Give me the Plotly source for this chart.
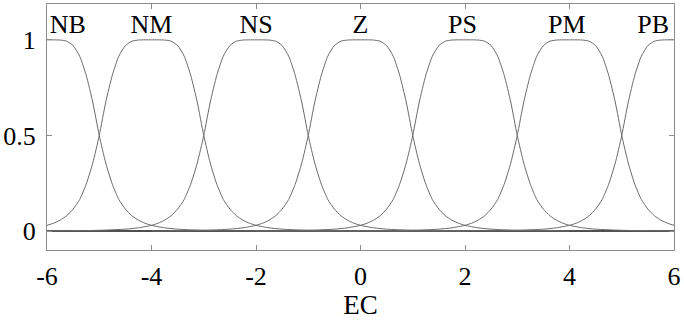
import plotly.graph_objects as go

# Membership-function labels and centres
labels = ["NB", "NM", "NS", "Z", "PS", "PM", "PB"]
centers = [-6, -4, -2, 0, 2, 4, 6]
label_x = [-5.6, -4.0, -2.0, 0.0, 1.95, 3.95, 5.6]
label_y = 1.07

# Shape of one membership curve (offset from centre -> membership)
profile_offset = [0, 0.125, 0.25, 0.375, 0.5, 0.625, 0.75, 0.875, 1.0, 1.125, 1.25,
                  1.375, 1.5, 1.625, 1.75, 1.875, 2.0, 2.25, 2.5, 3.0, 4.0, 6.0, 12.0]
profile_value = [1.000, 1.000, 0.999, 0.993, 0.970, 0.915, 0.815, 0.675, 0.500, 0.355, 0.245,
                 0.165, 0.115, 0.080, 0.057, 0.041, 0.030, 0.017, 0.010, 0.004, 0.001, 0.000, 0.000]

x_ticks = [-6, -4, -2, 0, 2, 4, 6]
y_ticks = [0, 0.5, 1]
x_title = "EC"

FONT = "Times New Roman, Liberation Serif, serif"

fig = go.Figure()
for c in centers:
    offs = [-o for o in reversed(profile_offset[1:])] + profile_offset
    vals = list(reversed(profile_value[1:])) + profile_value
    xs, ys = [], []
    for o, v in zip(offs, vals):
        xv = c + o
        if -6 <= xv <= 6:
            xs.append(xv)
            ys.append(v)
    fig.add_trace(go.Scatter(x=xs, y=ys, mode="lines",
                             line=dict(color="#6a6a6a", width=1, shape="spline", smoothing=0.6),
                             showlegend=False, hoverinfo="skip"))

fig.add_trace(go.Scatter(x=label_x, y=[label_y] * len(labels), mode="text", text=labels,
                         textfont=dict(family=FONT, size=26, color="black"),
                         textposition="middle center", showlegend=False, hoverinfo="skip"))

fig.update_layout(
    width=684, height=320,
    margin=dict(l=42, r=6, t=3, b=70),
    paper_bgcolor="white", plot_bgcolor="white",
    font=dict(family=FONT, color="black"),
    xaxis=dict(range=[-6, 6], tickvals=x_ticks, ticktext=[str(v) for v in x_ticks],
               showgrid=False, zeroline=False, showline=True, mirror="ticks",
               linecolor="#8c8c8c", linewidth=1, ticks="inside", ticklen=5, tickcolor="#8c8c8c",
               tickfont=dict(family=FONT, size=26, color="black"), ticklabelstandoff=3,
               ticklabeloverflow="allow",
               title=dict(text=x_title, font=dict(family=FONT, size=27, color="black"), standoff=2)),
    yaxis=dict(range=[-0.099, 1.1875], tickvals=y_ticks, ticktext=["0", "0.5", "1"],
               showgrid=False, zeroline=True, zerolinecolor="black", zerolinewidth=1.5,
               showline=True, mirror="ticks",
               linecolor="#8c8c8c", linewidth=1, ticks="inside", ticklen=5, tickcolor="#8c8c8c",
               tickfont=dict(family=FONT, size=26, color="black"), ticklabelstandoff=5,
               ticklabeloverflow="allow"),
)

fig.write_html("out.html", config={"displayModeBar": False},
               post_script="document.body.style.margin='0';")
